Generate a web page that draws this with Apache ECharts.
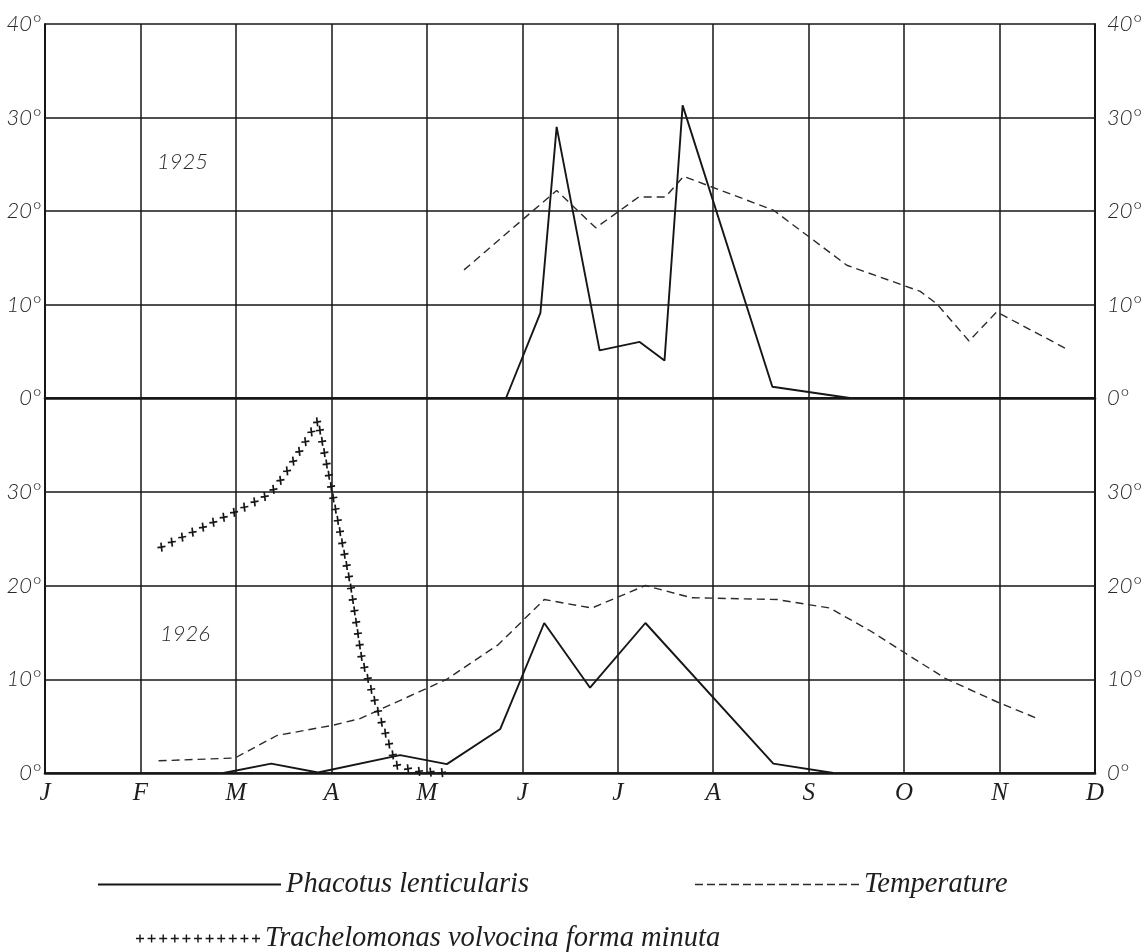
<!DOCTYPE html>
<html>
<head>
<meta charset="utf-8">
<script src="https://cdn.jsdelivr.net/npm/echarts@6/dist/echarts.min.js"></script>
<style>
  html, body { margin: 0; padding: 0; background: #ffffff; }
  #chart { width: 1147px; height: 952px; }
</style>
</head>
<body>
<div id="chart"></div>
<script>
// Month axis: 0 = start of January ... 11 = start of December
const months = ['J', 'F', 'M', 'A', 'M', 'J', 'J', 'A', 'S', 'O', 'N', 'D'];
const yTicks = [0, 10, 20, 30, 40];

// 1925 — Phacotus lenticularis (x in months, value on degree scale)
const phac1925X = [4.83, 5.19, 5.36, 5.81, 6.23, 6.49, 6.68, 7.62, 8.43];
const phac1925V = [0, 9.1, 29.0, 5.1, 6.0, 4.0, 31.3, 1.2, 0];

// 1925 — Temperature
const temp1925X = [4.39, 5.36, 5.77, 6.22, 6.50, 6.69, 7.63, 8.40, 9.17, 9.34, 9.68, 9.97, 10.73];
const temp1925V = [13.7, 22.2, 18.2, 21.5, 21.5, 23.7, 20.1, 14.2, 11.4, 10.1, 6.1, 9.2, 5.1];

// 1926 — Phacotus lenticularis
const phac1926X = [1.87, 2.37, 2.86, 3.72, 4.21, 4.77, 5.23, 5.71, 6.29, 7.63, 8.26];
const phac1926V = [0, 1.0, 0.05, 1.9, 0.95, 4.7, 16.0, 9.1, 16.0, 1.0, 0];

// 1926 — Temperature
const temp1926X = [1.19, 1.99, 2.43, 3.02, 3.30, 4.21, 4.75, 5.23, 5.73, 6.29, 6.77, 7.67, 8.22, 8.64, 9.01, 9.43, 9.97, 10.40];
const temp1926V = [1.3, 1.6, 4.0, 5.1, 5.8, 10.0, 13.7, 18.5, 17.6, 20.0, 18.7, 18.5, 17.6, 15.2, 12.8, 10.1, 7.6, 5.8];

// 1926 — Trachelomonas volvocina forma minuta
const trach1926X = [1.22, 2.02, 2.36, 2.51, 2.64, 2.78, 2.86, 3.00, 3.20, 3.32, 3.51, 3.68, 3.88, 4.21];
const trach1926V = [24.1, 28.0, 29.8, 31.8, 33.9, 36.2, 37.6, 30.4, 20.1, 12.1, 5.9, 0.85, 0.2, 0];

const INK = '#161616';
const numFont = { fontFamily: 'Lato', fontStyle: 'italic', fontWeight: 300, fontSize: 22, color: '#2a2a2a' };
const letterFont = { fontFamily: 'Liberation Serif', fontStyle: 'italic', fontSize: 25, color: '#1e1e1e' };

function pairs(xs, vs) { return xs.map((x, i) => [x, vs[i]]); }

// small glyph paths for the legend keys
function dashIcon(n, dash, gap, h) {
  let p = 'path://';
  for (let i = 0; i < n; i++) {
    const x = i * (dash + gap);
    p += `M${x},0h${dash}v${h}h${-dash}z`;
  }
  return p;
}
function crossIcon(n, step, s, t) {
  let p = 'path://';
  for (let i = 0; i < n; i++) {
    const cx = i * step + s / 2, cy = s / 2;
    p += `M${cx - s / 2},${cy - t / 2}h${s}v${t}h${-s}z`;
    p += `M${cx - t / 2},${cy - s / 2}h${t}v${s}h${-t}z`;
  }
  return p;
}

function yAxisFor(gridIndex, side, hideTop) {
  const right = side === 'right';
  return {
    type: 'value', gridIndex, position: side, min: 0, max: 40, interval: 10,
    axisLine: { show: true, lineStyle: { color: INK, width: 2 } },
    axisTick: { show: false },
    splitLine: { show: !right, lineStyle: { color: INK, width: 1.5 } },
    axisLabel: Object.assign({}, numFont, {
      margin: right ? 12 : 4,
      formatter: v => (hideTop && v === 40) ? '' : v + '°'
    })
  };
}
function xAxisFor(gridIndex, showLabels) {
  return {
    type: 'value', gridIndex, min: 0, max: 11, interval: 1,
    axisLine: { show: true, onZero: false, lineStyle: { color: INK, width: 2.6 } },
    axisTick: { show: false },
    splitLine: { show: true, lineStyle: { color: INK, width: 1.5 } },
    axisLabel: Object.assign({}, letterFont, {
      show: showLabels, margin: 8,
      formatter: v => months[v] || ''
    })
  };
}

const solidStyle = { color: INK, width: 1.9 };
const dashStyle = { color: '#2b2b2b', width: 1.4, type: [8, 5] };

function lineSeries(name, xs, vs, xi, yi, style) {
  return {
    name, type: 'line', xAxisIndex: xi, yAxisIndex: yi,
    data: pairs(xs, vs), showSymbol: false, symbol: 'none',
    lineStyle: style, color: style.color, silent: true, animation: false, z: 3
  };
}

// Trachelomonas drawn as a chain of small crosses along its polyline
const CROSS_STEP = 11.5;
function renderCrossLine(params, api) {
  if (params.dataIndex !== 0) return null;
  const pts = trach1926X.map((x, i) => api.coord([x, trach1926V[i]]));
  const children = [];
  let carry = 0;
  for (let i = 0; i < pts.length - 1; i++) {
    const [x0, y0] = pts[i], [x1, y1] = pts[i + 1];
    const len = Math.hypot(x1 - x0, y1 - y0);
    let d = carry;
    while (d <= len) {
      const t = len ? d / len : 0;
      const cx = x0 + (x1 - x0) * t, cy = y0 + (y1 - y0) * t;
      children.push({
        type: 'path',
        shape: { pathData: `M${cx - 4},${cy + 0.6}L${cx + 4},${cy - 0.6}M${cx - 0.5},${cy - 4.5}L${cx + 0.5},${cy + 4.5}` },
        style: { stroke: INK, lineWidth: 1.7, fill: null }
      });
      d += CROSS_STEP;
    }
    carry = d - len;
  }
  return { type: 'group', children };
}

const legendText = { fontFamily: 'Liberation Serif', fontStyle: 'italic', fontSize: 28.5, color: '#1e1e1e' };

const option = {
  backgroundColor: '#ffffff',
  animation: false,
  grid: [
    { left: 45, right: 52, top: 24, height: 374 },
    { left: 45, right: 52, top: 398, height: 375 }
  ],
  xAxis: [xAxisFor(0, false), xAxisFor(1, true)],
  yAxis: [
    yAxisFor(0, 'left', false), yAxisFor(0, 'right', false),
    yAxisFor(1, 'left', true), yAxisFor(1, 'right', true)
  ],
  legend: [
    {
      left: 98, top: 870, itemWidth: 183, itemHeight: 2, itemGap: 0, padding: 0,
      selectedMode: false, textStyle: legendText,
      data: [{ name: 'Phacotus lenticularis', icon: 'path://M0,0h183v2h-183z', itemStyle: { color: INK, borderWidth: 0 } }]
    },
    {
      left: 695, top: 870, itemWidth: 164, itemHeight: 1.5, itemGap: 0, padding: 0,
      selectedMode: false, textStyle: legendText,
      data: [{ name: 'Temperature', icon: dashIcon(14, 8, 4, 1.5), itemStyle: { color: '#2b2b2b', borderWidth: 0 } }]
    },
    {
      left: 136, top: 924, itemWidth: 124, itemHeight: 8, itemGap: 0, padding: 0,
      selectedMode: false, textStyle: legendText,
      data: [{ name: 'Trachelomonas volvocina forma minuta', icon: crossIcon(11, 11.6, 8, 1.4), itemStyle: { color: INK, borderWidth: 0 } }]
    }
  ],
  graphic: [
    { type: 'text', left: 157, top: 151, style: { text: '1925', font: 'italic 300 22px Lato', fill: '#2a2a2a' } },
    { type: 'text', left: 160, top: 623, style: { text: '1926', font: 'italic 300 22px Lato', fill: '#2a2a2a' } }
  ],
  series: [
    lineSeries('Phacotus lenticularis', phac1925X, phac1925V, 0, 0, solidStyle),
    lineSeries('Temperature', temp1925X, temp1925V, 0, 0, dashStyle),
    lineSeries('Phacotus lenticularis', phac1926X, phac1926V, 1, 2, solidStyle),
    lineSeries('Temperature', temp1926X, temp1926V, 1, 2, dashStyle),
    {
      name: 'Trachelomonas volvocina forma minuta', type: 'custom',
      xAxisIndex: 1, yAxisIndex: 2, color: INK, silent: true, z: 4,
      data: pairs(trach1926X, trach1926V),
      encode: { x: 0, y: 1 },
      renderItem: renderCrossLine
    }
  ]
};

const chart = echarts.init(document.getElementById('chart'), null, { renderer: 'canvas' });
chart.setOption(option);
</script>
</body>
</html>
